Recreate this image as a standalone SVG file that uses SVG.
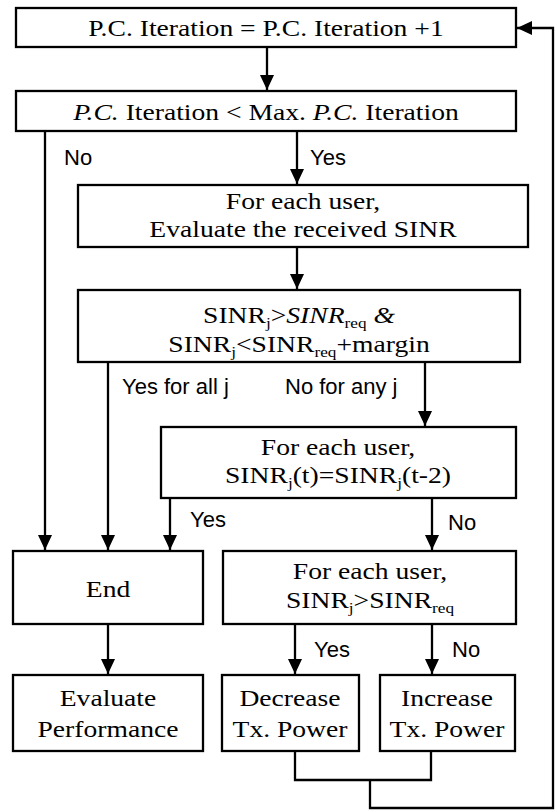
<svg xmlns="http://www.w3.org/2000/svg" width="557" height="812" viewBox="0 0 557 812">
<defs>
<marker id="ah" viewBox="0 0 15 14" refX="15" refY="7" markerWidth="15" markerHeight="14" markerUnits="userSpaceOnUse" orient="auto">
<path d="M0,0 L15,7 L0,14 Z" fill="#000"/>
</marker>
<style>
.box{fill:#fff;stroke:#000;stroke-width:2.3}
.t{font-family:"Liberation Serif","Times New Roman",serif;font-size:24px;fill:#000;text-anchor:middle}
.l{font-family:"Liberation Sans",Arial,sans-serif;font-size:22px;fill:#000}
.c{fill:none;stroke:#000;stroke-width:2.3}
.s{font-size:15px}
.i{font-style:italic}
</style>
</defs>
<g id="connectors">
<path class="c" d="M267,47 V90" marker-end="url(#ah)"/>
<path class="c" d="M45,131 V550" marker-end="url(#ah)"/>
<path class="c" d="M297,131 V184" marker-end="url(#ah)"/>
<path class="c" d="M297,247 V289" marker-end="url(#ah)"/>
<path class="c" d="M108,362 V550" marker-end="url(#ah)"/>
<path class="c" d="M425,362 V426" marker-end="url(#ah)"/>
<path class="c" d="M170,498 V550" marker-end="url(#ah)"/>
<path class="c" d="M432,498 V550" marker-end="url(#ah)"/>
<path class="c" d="M108,624 V674" marker-end="url(#ah)"/>
<path class="c" d="M295,624 V674" marker-end="url(#ah)"/>
<path class="c" d="M432,624 V674" marker-end="url(#ah)"/>
<path class="c" d="M295,751 V780 H431 V751"/>
<path class="c" d="M370,780 V808 H553 V28 H517" marker-end="url(#ah)"/>
<text class="l" x="64" y="165">No</text>
<text class="l" x="310" y="165">Yes</text>
<text class="l" x="122" y="394">Yes for all j</text>
<text class="l" x="285" y="394">No for any j</text>
<text class="l" x="190" y="527">Yes</text>
<text class="l" x="448" y="530">No</text>
<text class="l" x="314" y="657">Yes</text>
<text class="l" x="452" y="657">No</text>
</g>
<g id="n1"><rect class="box" x="16" y="8" width="500" height="39"/>
<text class="t" transform="matrix(1.15 0 0 1 266 0)" x="0" y="36">P.C. Iteration = P.C. Iteration +1</text></g>
<g id="n2"><rect class="box" x="16" y="91" width="500" height="40"/>
<text class="t" transform="matrix(1.15 0 0 1 266 0)" x="0" y="120"><tspan class="i">P.C.</tspan> Iteration &lt; Max. <tspan class="i">P.C.</tspan> Iteration</text></g>
<g id="n3"><rect class="box" x="78" y="185" width="450" height="62"/>
<text class="t" transform="matrix(1.15 0 0 1 303 0)" x="0" y="209">For each user,</text>
<text class="t" transform="matrix(1.15 0 0 1 303 0)" x="0" y="237">Evaluate the received SINR</text></g>
<g id="n4"><rect class="box" x="78" y="290" width="442" height="72"/>
<text class="t" transform="matrix(1.15 0 0 1 299 0)" x="0" y="323">SINR<tspan class="s" dy="5">j</tspan><tspan dy="-5">&gt;</tspan><tspan class="i">SINR</tspan><tspan class="s" dy="5">req</tspan><tspan class="i" dy="-5"> &amp;</tspan></text>
<text class="t" transform="matrix(1.15 0 0 1 299 0)" x="0" y="352">SINR<tspan class="s" dy="5">j</tspan><tspan dy="-5">&lt;SINR</tspan><tspan class="s" dy="5">req</tspan><tspan dy="-5">+margin</tspan></text></g>
<g id="n5"><rect class="box" x="161" y="427" width="355" height="71"/>
<text class="t" transform="matrix(1.15 0 0 1 338 0)" x="0" y="455">For each user,</text>
<text class="t" transform="matrix(1.15 0 0 1 338 0)" x="0" y="483">SINR<tspan class="s" dy="5">j</tspan><tspan dy="-5">(t)=SINR</tspan><tspan class="s" dy="5">j</tspan><tspan dy="-5">(t-2)</tspan></text></g>
<g id="n6"><rect class="box" x="13" y="551" width="190" height="73"/>
<text class="t" transform="matrix(1.15 0 0 1 108 0)" x="0" y="597">End</text></g>
<g id="n7"><rect class="box" x="223" y="551" width="293" height="73"/>
<text class="t" transform="matrix(1.15 0 0 1 370 0)" x="0" y="579">For each user,</text>
<text class="t" transform="matrix(1.15 0 0 1 370 0)" x="0" y="608">SINR<tspan class="s" dy="5">j</tspan><tspan dy="-5">&gt;SINR</tspan><tspan class="s" dy="5">req</tspan></text></g>
<g id="n8"><rect class="box" x="13" y="675" width="190" height="76"/>
<text class="t" transform="matrix(1.15 0 0 1 108 0)" x="0" y="706">Evaluate</text>
<text class="t" transform="matrix(1.15 0 0 1 108 0)" x="0" y="737">Performance</text></g>
<g id="n9"><rect class="box" x="222" y="675" width="137" height="76"/>
<text class="t" transform="matrix(1.15 0 0 1 290 0)" x="0" y="706">Decrease</text>
<text class="t" transform="matrix(1.15 0 0 1 290 0)" x="0" y="737">Tx. Power</text></g>
<g id="n10"><rect class="box" x="380" y="675" width="135" height="76"/>
<text class="t" transform="matrix(1.15 0 0 1 447 0)" x="0" y="706">Increase</text>
<text class="t" transform="matrix(1.15 0 0 1 447 0)" x="0" y="737">Tx. Power</text></g>
</svg>
